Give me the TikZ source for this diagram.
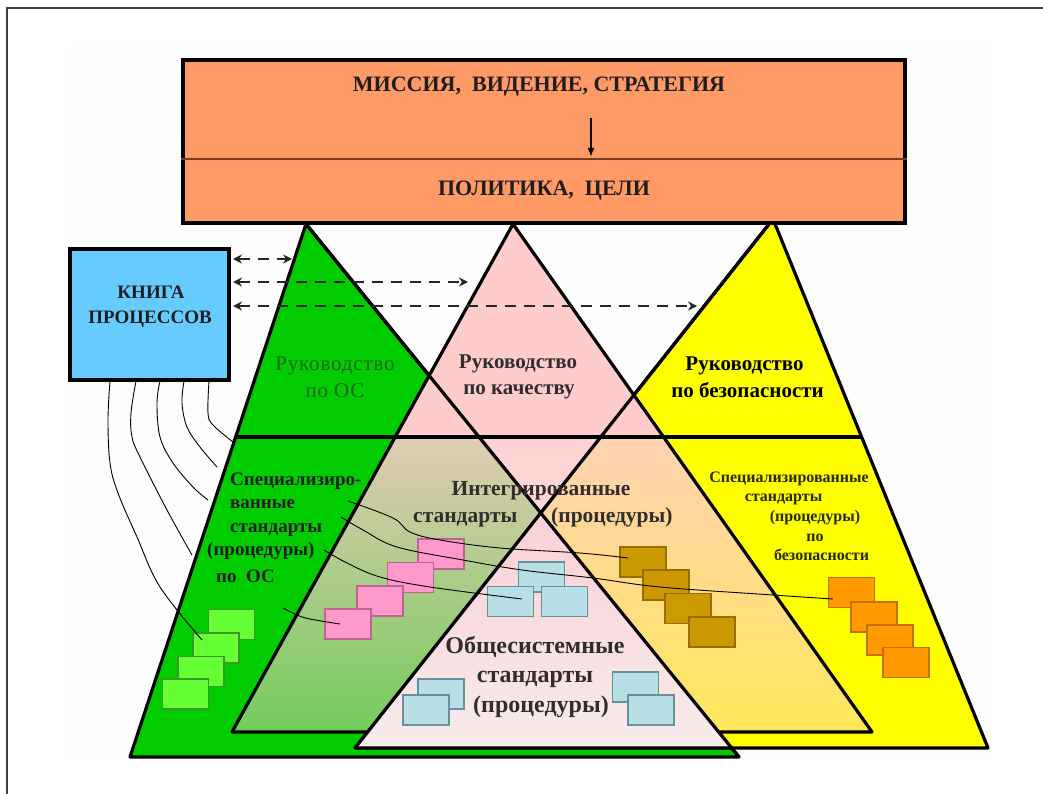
\documentclass[tikz,border=0pt]{standalone}
\usepackage{fontspec}
\setmainfont{Liberation Serif}
\usetikzlibrary{arrows.meta,fadings}
\definecolor{orangebox}{RGB}{255,153,102}
\definecolor{bookblue}{RGB}{102,204,255}
\definecolor{trigreen}{RGB}{0,204,0}
\definecolor{tripink}{RGB}{255,204,204}
\definecolor{triyellow}{RGB}{255,255,0}
\definecolor{docgreen}{RGB}{102,255,51}
\definecolor{docgreenb}{RGB}{60,150,40}
\definecolor{docpink}{RGB}{255,153,204}
\definecolor{docpinkb}{RGB}{190,100,145}
\definecolor{docblue}{RGB}{183,223,229}
\definecolor{docblueb}{RGB}{100,145,155}
\definecolor{docgold}{RGB}{204,153,0}
\definecolor{docgoldb}{RGB}{150,110,0}
\definecolor{docorange}{RGB}{255,153,0}
\definecolor{docorangeb}{RGB}{200,110,0}
\definecolor{obshtop}{RGB}{250,208,212}
\definecolor{obshbot}{RGB}{248,236,236}
\definecolor{textdark}{RGB}{30,30,30}
\definecolor{textgray}{RGB}{50,45,45}
\definecolor{textgreen}{RGB}{30,100,30}
\definecolor{divline}{RGB}{120,60,30}
\tikzfading[name=pinkfade, top color=transparent!12, bottom color=transparent!55]
\begin{document}
\begin{tikzpicture}[x=1pt,y=-1pt,
  triline/.style={line width=3.2pt, line join=round, black},
  wire/.style={line width=0.9pt, black},
  dasharrow/.style={line width=2.8pt, black!85, dash pattern=on 11pt off 8pt,
    {Stealth[length=9pt,width=9pt]}-{Stealth[length=9pt,width=9pt]}},
  doc/.style={line width=1.2pt, minimum width=46pt, minimum height=30pt, inner sep=0pt},
  docg/.style={doc, fill=docgreen, draw=docgreenb},
  docp/.style={doc, fill=docpink, draw=docpinkb},
  docb/.style={doc, fill=docblue, draw=docblueb},
  docy/.style={doc, fill=docgold, draw=docgoldb},
  doco/.style={doc, fill=docorange, draw=docorangeb},
  lbl/.style={inner sep=0pt, anchor=base, text=textdark},
  headf/.style={lbl, font=\bfseries\fontsize{22}{26}\selectfont},
  bookf/.style={lbl, font=\bfseries\fontsize{19}{22}\selectfont},
  rukf/.style={lbl, text=textgray, font=\bfseries\fontsize{21}{25}\selectfont},
  rukos/.style={lbl, text=textgreen, font=\fontsize{21}{25}\selectfont\addfontfeatures{LetterSpace=4}},
  specf/.style={inner sep=0pt, anchor=base west, text=textdark, font=\bfseries\fontsize{19}{22}\selectfont},
  integf/.style={inner sep=0pt, text=textgray, font=\bfseries\fontsize{21.5}{25}\selectfont},
  obshf/.style={lbl, text=textgray, font=\bfseries\fontsize{24}{28}\selectfont},
  smallf/.style={lbl, text={rgb,255:red,40;green,40;blue,10}, font=\bfseries\fontsize{16}{19}\selectfont},
]
\useasboundingbox (0,0) rectangle (1043,794);
% faint background and frame
\fill[black!0.7] (70,45) rectangle (990,760);
\draw[line width=1.4pt, black!75] (7,794) -- (7,8) -- (1043,8);

% triangle corners
\coordinate (G) at (306,224);   \coordinate (GBL) at (130,757); \coordinate (GBR) at (739,757);
\coordinate (Y) at (773,219);   \coordinate (YBL) at (355,748); \coordinate (YBR) at (988,748);
\coordinate (P) at (513,224);   \coordinate (PBL) at (232,732); \coordinate (PBR) at (872,732);
\coordinate (GL) at (intersection of G--GBL and 0,437--1000,437);
\coordinate (YR) at (intersection of Y--YBR and 0,437--1000,437);
\coordinate (PL) at (intersection of P--PBL and 0,437--1000,437);
\coordinate (PR) at (intersection of P--PBR and 0,437--1000,437);
\coordinate (X) at (intersection of G--GBR and Y--YBL);
\coordinate (OBL) at (intersection of Y--YBL and 0,748--1000,748);
\coordinate (OBR) at (intersection of G--GBR and 0,748--1000,748);

% green triangle
\fill[trigreen] (G) -- (GBL) -- (GBR) -- cycle;
\draw[triline] (G) -- (GBL) -- (GBR) -- cycle;
% yellow triangle
\fill[triyellow] (Y) -- (YBL) -- (YBR) -- cycle;
\draw[triline] (Y) -- (YBL) -- (YBR) -- cycle;
% pink triangle
\fill[tripink] (P) -- (PL) -- (PR) -- cycle;
\fill[tripink, path fading=pinkfade] (PL) -- (PBL) -- (PBR) -- (PR) -- cycle;
\draw[triline] (P) -- (PBL) -- (PBR) -- cycle;
% level line
\draw[triline] (GL) -- (YR);
% common triangle
\fill[top color=obshtop, bottom color=obshbot] (X) -- (OBL) -- (OBR) -- cycle;
\draw[triline] (OBL) -- (OBR);
\draw[triline] (G) -- (GBR);
\draw[triline] (Y) -- (YBL);

% faint outline around the security label
\node[draw=white!55!yellow, densely dotted, rounded corners=9pt, line width=0.8pt,
      minimum width=138pt, minimum height=38pt] (ghost) at (749,391) {};

% document stacks
\node[docg] (g1) at (231.5,624.5) {};
\node[docg] (g2) at (216,648) {};
\node[docg] (g3) at (201,671.5) {};
\node[docg] (g4) at (185.5,694) {};
\node[docp] (p1) at (441,554) {};
\node[docp] (p2) at (410.5,577.5) {};
\node[docp] (p3) at (380,601) {};
\node[docp] (p4) at (348,624) {};
\node[docb] (b1) at (541.5,577) {};
\node[docb] (b2) at (510.5,601.5) {};
\node[docb] (b3) at (564.5,601.5) {};
\node[docb] (b4) at (441,694) {};
\node[docb] (b5) at (426,710) {};
\node[docb] (b6) at (635.5,687) {};
\node[docb] (b7) at (651,710) {};
\node[docy] (y1d) at (643,562) {};
\node[docy] (y2d) at (666,585) {};
\node[docy] (y3d) at (688,608.5) {};
\node[docy] (y4d) at (712,632) {};
\node[doco] (o1d) at (851.5,592.5) {};
\node[doco] (o2d) at (874,617) {};
\node[doco] (o3d) at (890,640) {};
\node[doco] (o4d) at (906,662.5) {};

% top box
\node[draw=black, line width=3.2pt, fill=orangebox, minimum width=722pt, minimum height=163pt,
      inner sep=0pt] (strat) at (544,141.5) {};
\draw[line width=1.4pt, divline] (strat.west |- 0,159) -- (strat.east |- 0,159);
\node[headf] (mis) at (539,92) {МИССИЯ,\ \ ВИДЕНИЕ, СТРАТЕГИЯ};
\node[headf] (pol) at (544,196) {ПОЛИТИКА,\ \ ЦЕЛИ};
\coordinate (arrs) at (591,118);
\coordinate (arre) at (591,157);
\draw[line width=1.8pt, -{Latex[length=9pt,width=7pt]}] (arrs) -- (arre);

% process book
\node[draw=black, line width=3.4pt, fill=bookblue, minimum width=159pt, minimum height=131pt,
      inner sep=0pt] (book) at (149.5,314.5) {};
\node[bookf] (k1) at (151,298) {КНИГА};
\node[bookf] (k2) at (150,323) {ПРОЦЕССОВ};

% dashed links
\coordinate (da1s) at (233,259); \coordinate (da1e) at (292,259);
\coordinate (da2s) at (233,282); \coordinate (da2e) at (468,282);
\coordinate (da3s) at (233,306); \coordinate (da3e) at (697,306);
\draw[dasharrow] (da1s) -- (da1e);
\draw[dasharrow] (da2s) -- (da2e);
\draw[dasharrow] (da3s) -- (da3e);

% wires from the book
\coordinate (w1) at (110,381); \coordinate (w2) at (136,381); \coordinate (w3) at (160,381);
\coordinate (w4) at (184,381); \coordinate (w5) at (209,381);
\draw[wire] plot[smooth, tension=0.6] coordinates {(w1) (108,420) (110,463) (118,493) (137,537) (160,587) (202,640)};
\draw[wire] plot[smooth, tension=0.6] coordinates {(w2) (131,413) (132,437) (140,457) (167,510) (192,555)};
\draw[wire] plot[smooth, tension=0.6] coordinates {(w3) (157,403) (160,437) (173,463) (193,487) (208,500)};
\draw[wire] plot[smooth, tension=0.6] coordinates {(w4) (182,403) (187,427) (200,447) (217,467)};
\draw[wire] plot[smooth, tension=0.6] coordinates {(w5) (208,413) (213,425) (233,442)};
% wires from the label to the stacks
\draw[wire] plot[smooth, tension=0.6] coordinates {(348,501) (393,518) (410,532) (440,540) (500,548) (580,553) (628,558)};
\draw[wire] plot[smooth, tension=0.6] coordinates {(341,517) (363,530) (397,547) (463,560) (522,570) (593,578) (660,587) (773,595) (833,599)};
\draw[wire] plot[smooth, tension=0.6] coordinates {(324,550) (347,563) (380,577) (430,587) (522,599)};
\draw[wire] plot[smooth, tension=0.6] coordinates {(283,608) (297,615) (310,619) (340,624)};

% labels
\node[rukos] (r1a) at (335,370) {Руководство};
\node[rukos] (r1b) at (335,397) {по ОС};
\node[rukf] (r2a) at (518,368) {Руководство};
\node[rukf] (r2b) at (519,394) {по качеству};
\node[rukf, text=black] (r3a) at (744.5,370) {Руководство};
\node[rukf, text=black] (r3b) at (747.5,397) {по безопасности};

\node[specf] (s1) at (230,485) {Специализиро-};
\node[specf] (s2) at (230,508) {ванные};
\node[specf] (s3) at (230,532) {стандарты};
\node[specf] (s4) at (207,555) {(процедуры)};
\node[specf] (s5) at (216,582) {по\ \ ОС};

\node[integf, anchor=base] (i1) at (541,495) {Интегрированные};
\node[integf, anchor=base west] (i2) at (413,522) {стандарты};
\node[integf, anchor=base west] (i3) at (551,522) {(процедуры)};

\node[obshf] (c1) at (535,653) {Общесистемные};
\node[obshf] (c2) at (535,682) {стандарты};
\node[obshf] (c3) at (541,712) {(процедуры)};

\node[smallf] (sy1) at (789,482) {Специализированные};
\node[smallf] (sy2) at (783.5,501) {стандарты};
\node[smallf] (sy3) at (815,521) {(процедуры)};
\node[smallf] (sy4) at (815,541) {по};
\node[smallf] (sy5) at (821.5,560) {безопасности};
\end{tikzpicture}
\end{document}
